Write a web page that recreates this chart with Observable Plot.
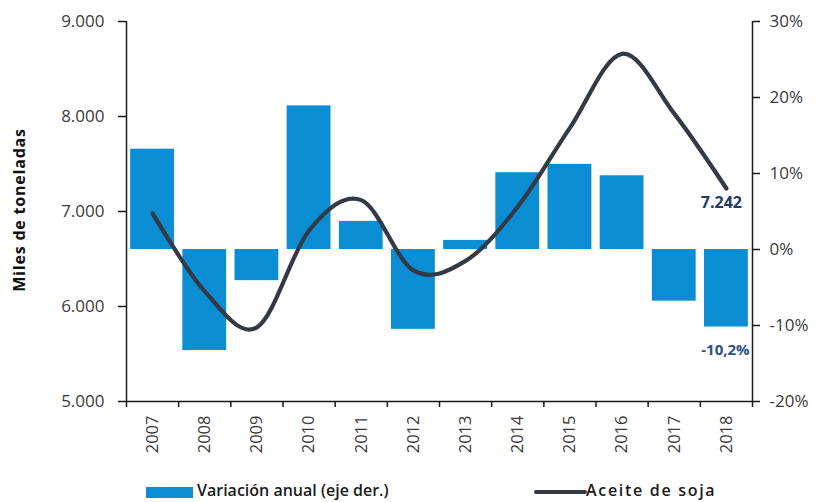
<!DOCTYPE html>
<html>
<head>
<meta charset="utf-8">
<script src="https://cdn.jsdelivr.net/npm/d3@7"></script>
<script src="https://cdn.jsdelivr.net/npm/@observablehq/plot@0.6"></script>
<style>
  html, body { margin: 0; padding: 0; background: #fff; }
  #wrap { position: relative; width: 819px; height: 502px; font-family: "Open Sans", sans-serif; }
  #legend { position: absolute; left: 0; top: 479px; width: 819px; height: 23px; font-weight: 600; font-size: 16px; color: #1a1a1a; }
  .sw { position: absolute; }
  .lt { position: absolute; white-space: nowrap; }
</style>
</head>
<body>
<div id="wrap">
  <div id="chart"></div>
  <div id="legend">
    <div class="sw" style="left:146px; top:8px; width:47px; height:11px; background:#0b8dd4;"></div>
    <div class="lt" style="left:197px; top:0px;">Variación anual (eje der.)</div>
    <div class="sw" style="left:534px; top:11px; width:53px; height:4px; background:#343a45; border-radius:2px;"></div>
    <div class="lt" style="left:586px; top:0px; letter-spacing:1.7px;">Aceite de soja</div>
  </div>
</div>
<script>
const years = [2007, 2008, 2009, 2010, 2011, 2012, 2013, 2014, 2015, 2016, 2017, 2018];
const variacion = [13.2, -13.3, -4.1, 18.9, 3.7, -10.5, 1.2, 10.1, 11.2, 9.7, -6.8, -10.2];
const aceite = [6980, 6160, 5780, 6800, 7120, 6380, 6480, 7050, 7880, 8660, 8030, 7242];
const leftTicks = [5000, 6000, 7000, 8000, 9000];
const rightTicks = [-20, -10, 0, 10, 20, 30];
const yTitle = "Miles de toneladas";

const leftMin = 5000, leftMax = 9000, rightMin = -20, rightMax = 30;
const toPct = v => rightMin + (v - leftMin) / (leftMax - leftMin) * (rightMax - rightMin);
const fromPct = p => leftMin + (p - rightMin) / (rightMax - rightMin) * (leftMax - leftMin);
const fmtThousands = v => String(Math.round(v)).replace(/\B(?=(\d{3})+(?!\d))/g, ".");
const fmtPct = v => v.toFixed(1).replace(".", ",") + "%";

const data = years.map((y, i) => ({year: y, v: variacion[i], a: aceite[i]}));
const last = data[data.length - 1];
const bounds = d3.range(years[0] - 0.5, years[years.length - 1] + 1, 1);

const chart = Plot.plot({
  width: 819,
  height: 455,
  marginLeft: 126,
  marginRight: 67,
  marginTop: 21,
  marginBottom: 54,
  x: {domain: [years[0] - 0.5, years[years.length - 1] + 0.5]},
  y: {domain: [rightMin, rightMax]},
  style: {fontFamily: "Open Sans, sans-serif", fontSize: "17px", color: "#3a3a3a", background: "#fff"},
  marks: [
    Plot.rectY(data, {x1: d => d.year - 0.42, x2: d => d.year + 0.42, y1: 0, y2: "v", fill: "#0b8dd4"}),
    Plot.line(data, {x: "year", y: d => toPct(d.a), curve: "cardinal", tension: 0, stroke: "#343a45", strokeWidth: 4.2}),
    Plot.ruleX([bounds[0]], {y1: rightMin, y2: rightMax, stroke: "#1a1a1a", strokeWidth: 1.5}),
    Plot.ruleX([bounds[bounds.length - 1]], {y1: rightMin, y2: rightMax, stroke: "#1a1a1a", strokeWidth: 1.5}),
    Plot.ruleY([rightMin], {stroke: "#1a1a1a", strokeWidth: 1.5}),
    Plot.axisY(leftTicks.map(toPct), {anchor: "left", tickSize: 8, tickPadding: 14, tickFormat: p => fmtThousands(fromPct(p)), stroke: "#1a1a1a", strokeWidth: 1.5, label: null}),
    Plot.axisY(rightTicks, {anchor: "right", tickSize: 7, tickPadding: 10, tickFormat: d => d + "%", stroke: "#1a1a1a", strokeWidth: 1.5, label: null}),
    Plot.axisX(years, {anchor: "bottom", tickSize: 0, tickPadding: 14, tickRotate: -90, tickFormat: d => String(d), label: null, fontSize: 16.5}),
    Plot.axisX(bounds, {anchor: "bottom", tickSize: 6, tickFormat: () => "", stroke: "#1a1a1a", strokeWidth: 1.5, label: null}),
    Plot.text([last], {x: "year", y: d => toPct(d.a), text: d => fmtThousands(d.a), dx: -5, dy: 14, fill: "#233a66", fontWeight: "bold", fontSize: 16}),
    Plot.text([last], {x: "year", y: "v", text: d => fmtPct(d.v), dx: -1, dy: 23, fill: "#2d4f86", fontWeight: "bold", fontSize: 15})
  ]
});
document.getElementById("chart").appendChild(chart);

// y-axis title (left)
const svg = d3.select(chart);
svg.append("text")
  .attr("transform", "translate(25,210) rotate(-90)")
  .attr("text-anchor", "middle")
  .attr("font-weight", "bold")
  .attr("font-size", "16px")
  .attr("letter-spacing", "0.8px")
  .attr("fill", "#111")
  .attr("font-family", "Open Sans, sans-serif")
  .text(yTitle);
</script>
</body>
</html>
